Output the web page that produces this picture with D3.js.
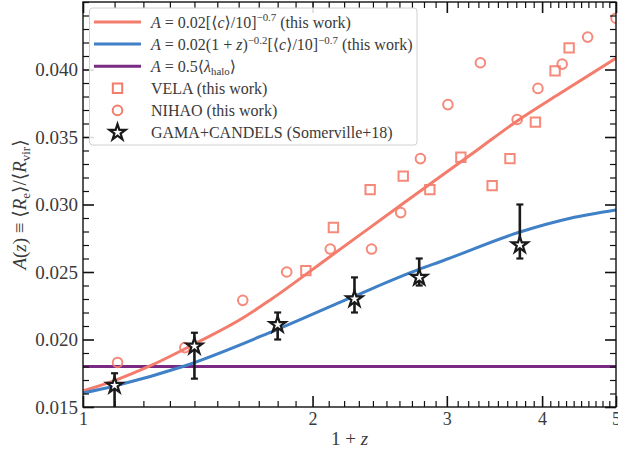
<!DOCTYPE html>
<html>
<head>
<meta charset="utf-8">
<script src="https://cdn.jsdelivr.net/npm/d3@7"></script>
<style>
  body { margin: 0; background: #fff; }
  svg text { font-family: "Liberation Serif", "DejaVu Serif", serif; fill: #3a3a3a; }
</style>
</head>
<body>
<div id="chart"></div>
<script>
// values, x is 1+z
const velaX = [1.96, 2.13, 2.38, 2.63, 2.85, 3.13, 3.44, 3.63, 3.92, 4.16, 4.34];
const velaA = [0.0251, 0.0283, 0.0311, 0.0321, 0.0311, 0.0335, 0.0314, 0.0334, 0.0361, 0.0399, 0.0416];

const nihaoX = [1.11, 1.36, 1.62, 1.85, 2.11, 2.39, 2.61, 2.77, 3.01, 3.32, 3.71, 3.95, 4.25, 4.59, 5.0];
const nihaoA = [0.0183, 0.0194, 0.0229, 0.0250, 0.0267, 0.0267, 0.0294, 0.0334, 0.0374, 0.0405, 0.0363, 0.0386, 0.0404, 0.0424, 0.0438];

const obsX = [1.1, 1.4, 1.8, 2.27, 2.76, 3.74];
const obsA = [0.0166, 0.0195, 0.0211, 0.0230, 0.0246, 0.0270];
const obsLo = [0.0145, 0.0171, 0.0200, 0.0220, 0.0240, 0.0260];
const obsHi = [0.0175, 0.0205, 0.0220, 0.0246, 0.0260, 0.0300];

// model curves
const concX = [1.0, 1.1, 1.224, 1.4, 1.62, 1.76, 2.114, 2.612, 3.316, 3.71, 4.22, 5.0];
const concA = [0.0162, 0.01696, 0.01804, 0.01967, 0.02159, 0.02293, 0.02619, 0.02996, 0.03419, 0.03619, 0.03822, 0.04083];

const concZX = [1.0, 1.1, 1.352, 1.79, 2.265, 2.757, 2.94, 3.74, 4.355, 5.0];
const concZA = [0.01604, 0.01656, 0.0180, 0.0207, 0.02319, 0.02519, 0.02576, 0.02796, 0.02898, 0.02959];

const spinA = 0.018;

const xMajor = [1, 2, 3, 4, 5];
const yMajor = [0.015, 0.020, 0.025, 0.030, 0.035, 0.040];

const salmon = '#f47c6c';
const blue = '#3f80c6';
const purple = '#7a2a82';

const width = 618, height = 455;
const mLeft = 83, mRight = 616, mTop = 2, mBottom = 407;

const svg = d3.select('#chart')
    .append('svg')
    .attr('width', width)
    .attr('height', height);

const x = d3.scaleLog().domain([1, 5]).range([mLeft, mRight]);
const y = d3.scaleLinear().domain([0.015, 0.045]).range([mBottom, mTop]);

svg.append('clipPath').attr('id', 'plotClip')
    .append('rect')
    .attr('x', mLeft).attr('y', mTop)
    .attr('width', mRight - mLeft).attr('height', mBottom - mTop);

const plot = svg.append('g').attr('clip-path', 'url(#plotClip)');

const line = d3.line()
    .x(d => x(d[0]))
    .y(d => y(d[1]))
    .curve(d3.curveMonotoneX);

// horizontal spin line
plot.append('path')
    .attr('d', line([[1, spinA], [5, spinA]]))
    .attr('fill', 'none')
    .attr('stroke', purple)
    .attr('stroke-width', 3);

plot.append('path')
    .attr('d', line(concX.map((v, i) => [v, concA[i]])))
    .attr('fill', 'none')
    .attr('stroke', salmon)
    .attr('stroke-width', 3);

plot.append('path')
    .attr('d', line(concZX.map((v, i) => [v, concZA[i]])))
    .attr('fill', 'none')
    .attr('stroke', blue)
    .attr('stroke-width', 3);

// VELA squares
plot.selectAll('.vela')
    .data(velaX)
    .enter()
    .append('path')
    .attr('class', 'vela')
    .attr('d', d3.symbol().type(d3.symbolSquare).size(88))
    .attr('transform', (d, i) => `translate(${x(d)},${y(velaA[i])})`)
    .attr('fill', 'none')
    .attr('stroke', salmon)
    .attr('stroke-opacity', 0.9)
    .attr('stroke-width', 2);

// NIHAO circles
plot.selectAll('.nihao')
    .data(nihaoX)
    .enter()
    .append('circle')
    .attr('class', 'nihao')
    .attr('cx', d => x(d))
    .attr('cy', (d, i) => y(nihaoA[i]))
    .attr('r', 4.8)
    .attr('fill', 'none')
    .attr('stroke', salmon)
    .attr('stroke-opacity', 0.9)
    .attr('stroke-width', 2);

// error bars
const err = plot.selectAll('.err')
    .data(obsX)
    .enter()
    .append('g')
    .attr('class', 'err');

err.append('line')
    .attr('x1', d => x(d)).attr('x2', d => x(d))
    .attr('y1', (d, i) => y(obsLo[i])).attr('y2', (d, i) => y(obsHi[i]))
    .attr('stroke', '#1a1a1a').attr('stroke-width', 2.6);

err.selectAll('.cap')
    .data((d, i) => [[d, obsLo[i]], [d, obsHi[i]]])
    .enter()
    .append('line')
    .attr('x1', d => x(d[0]) - 3.5).attr('x2', d => x(d[0]) + 3.5)
    .attr('y1', d => y(d[1])).attr('y2', d => y(d[1]))
    .attr('stroke', '#1a1a1a').attr('stroke-width', 2.2);

const star = d3.symbol().type(d3.symbolStar).size(80);

plot.selectAll('.star')
    .data(obsX)
    .enter()
    .append('path')
    .attr('class', 'star')
    .attr('d', star)
    .attr('transform', (d, i) => `translate(${x(d)},${y(obsA[i])})`)
    .attr('fill', '#fff')
    .attr('stroke', '#1a1a1a')
    .attr('stroke-width', 2.2)
    .attr('stroke-linejoin', 'miter');

// axes, ticks pointing inward on all four sides
const xMinor = d3.range(1.1, 5, 0.1).filter(v => Math.abs(v - Math.round(v)) > 0.01);
const yMinor = d3.range(0.015, 0.0451, 0.001).filter(v => yMajor.every(m => Math.abs(m - v) > 1e-6));

function styleTicks(g, w) {
    g.select('.domain').remove();
    g.selectAll('.tick line').attr('stroke', '#111').attr('stroke-width', w);
}

svg.append('g')
    .attr('transform', `translate(0,${mBottom})`)
    .call(d3.axisBottom(x).tickValues(xMajor).tickSize(-11).tickPadding(5).tickFormat(d3.format('d')))
    .call(g => styleTicks(g, 1.6))
    .call(g => g.selectAll('text').style('font-size', '18px'));

svg.append('g')
    .attr('transform', `translate(0,${mBottom})`)
    .call(d3.axisBottom(x).tickValues(xMinor).tickSize(-6).tickFormat(''))
    .call(g => styleTicks(g, 1.2));

svg.append('g')
    .attr('transform', `translate(0,${mTop})`)
    .call(d3.axisTop(x).tickValues(xMajor).tickSize(-11).tickFormat(''))
    .call(g => styleTicks(g, 1.6));

svg.append('g')
    .attr('transform', `translate(0,${mTop})`)
    .call(d3.axisTop(x).tickValues(xMinor).tickSize(-6).tickFormat(''))
    .call(g => styleTicks(g, 1.2));

svg.append('g')
    .attr('transform', `translate(${mLeft},0)`)
    .call(d3.axisLeft(y).tickValues(yMajor).tickSize(-11).tickPadding(5).tickFormat(d3.format('.3f')))
    .call(g => styleTicks(g, 1.6))
    .call(g => g.selectAll('text').style('font-size', '19px'));

svg.append('g')
    .attr('transform', `translate(${mLeft},0)`)
    .call(d3.axisLeft(y).tickValues(yMinor).tickSize(-6).tickFormat(''))
    .call(g => styleTicks(g, 1.2));

svg.append('g')
    .attr('transform', `translate(${mRight},0)`)
    .call(d3.axisRight(y).tickValues(yMajor).tickSize(-11).tickFormat(''))
    .call(g => styleTicks(g, 1.6));

svg.append('g')
    .attr('transform', `translate(${mRight},0)`)
    .call(d3.axisRight(y).tickValues(yMinor).tickSize(-6).tickFormat(''))
    .call(g => styleTicks(g, 1.2));

svg.append('rect')
    .attr('x', mLeft).attr('y', mTop)
    .attr('width', mRight - mLeft).attr('height', mBottom - mTop)
    .attr('fill', 'none')
    .attr('stroke', '#111')
    .attr('stroke-width', 1.4);

// text with italic / sup / sub pieces
function rich(sel, parts, size) {
    let shift = 0;
    parts.forEach(p => {
        const target = p[1] === '^' ? -0.38 * size : p[1] === '_' ? 0.22 * size : 0;
        const ts = sel.append('tspan').attr('dy', target - shift).text(p[0]);
        shift = target;
        if (p[1] === 'i') ts.style('font-style', 'italic');
        if (p[1] === '^' || p[1] === '_') ts.style('font-size', (0.68 * size) + 'px');
    });
    return sel;
}

svg.append('text')
    .attr('x', (mLeft + mRight) / 2)
    .attr('y', 445)
    .attr('text-anchor', 'middle')
    .style('font-size', '19px')
    .call(t => rich(t, [['1 + ', ''], ['z', 'i']], 19));

svg.append('text')
    .attr('transform', `translate(26,${(mTop + mBottom) / 2}) rotate(-90)`)
    .attr('text-anchor', 'middle')
    .style('font-size', '19px')
    .call(t => rich(t, [['A', 'i'], ['(', ''], ['z', 'i'], [') ≡ ⟨', ''], ['R', 'i'], ['e', '_'],
        ['⟩/⟨', ''], ['R', 'i'], ['vir', '_'], ['⟩', '']], 19));

// legend
const legend = svg.append('g');

legend.append('rect')
    .attr('x', 89.5).attr('y', 8)
    .attr('width', 327.5).attr('height', 137)
    .attr('rx', 3)
    .attr('fill', '#fff').attr('fill-opacity', 0.85)
    .attr('stroke', '#d0d0d0');

const legendSize = 16;
const rows = [
    { kind: 'line', color: salmon, text: [['A', 'i'], [' = 0.02[⟨', ''], ['c', 'i'], ['⟩/10]', ''], ['−0.7', '^'], [' (this work)', '']] },
    { kind: 'line', color: blue, text: [['A', 'i'], [' = 0.02(1 + ', ''], ['z', 'i'], [')', ''], ['−0.2', '^'], ['[⟨', ''], ['c', 'i'], ['⟩/10]', ''], ['−0.7', '^'], [' (this work)', '']] },
    { kind: 'line', color: purple, text: [['A', 'i'], [' = 0.5⟨', ''], ['λ', 'i'], ['halo', '_'], ['⟩', '']] },
    { kind: 'square', text: [['VELA (this work)', '']] },
    { kind: 'circle', text: [['NIHAO (this work)', '']] },
    { kind: 'star', text: [['GAMA+CANDELS (Somerville+18)', '']] }
];

rows.forEach((r, i) => {
    const cy = 22 + i * 22.1;
    if (r.kind === 'line') {
        legend.append('line')
            .attr('x1', 94).attr('x2', 141)
            .attr('y1', cy).attr('y2', cy)
            .attr('stroke', r.color).attr('stroke-width', 3);
    } else if (r.kind === 'square') {
        legend.append('path')
            .attr('d', d3.symbol().type(d3.symbolSquare).size(88))
            .attr('transform', `translate(117.5,${cy})`)
            .attr('fill', 'none').attr('stroke', salmon).attr('stroke-width', 2);
    } else if (r.kind === 'circle') {
        legend.append('circle')
            .attr('cx', 117.5).attr('cy', cy).attr('r', 4.8)
            .attr('fill', 'none').attr('stroke', salmon).attr('stroke-width', 2);
    } else {
        legend.append('path')
            .attr('d', star)
            .attr('transform', `translate(117.5,${cy})`)
            .attr('fill', '#fff').attr('stroke', '#1a1a1a').attr('stroke-width', 2.2);
    }
    legend.append('text')
        .attr('x', 151)
        .attr('y', cy + 5.5)
        .style('font-size', legendSize + 'px')
        .call(t => rich(t, r.text, legendSize));
});
</script>
</body>
</html>
